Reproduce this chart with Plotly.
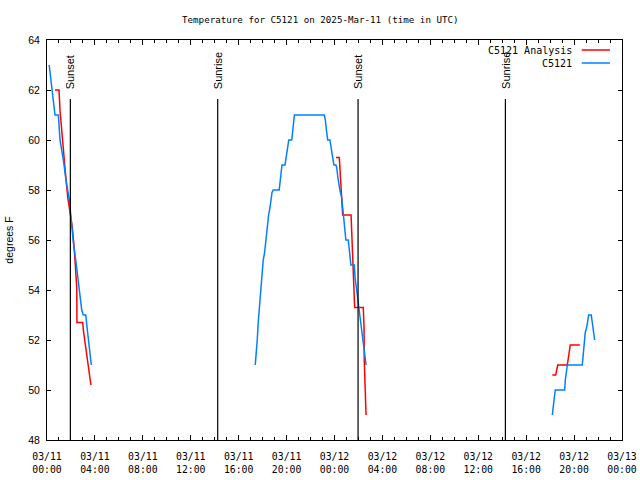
import plotly.graph_objects as go

# ---------------- data ----------------
analysis_time = [
    "2025-03-11 00:40", "2025-03-11 01:00", "2025-03-11 01:05", "2025-03-11 01:14",
    "2025-03-11 01:22", "2025-03-11 01:32", "2025-03-11 01:44", "2025-03-11 01:55",
    "2025-03-11 02:07", "2025-03-11 02:17", "2025-03-11 02:29", "2025-03-11 02:30",
    "2025-03-11 02:59", "2025-03-11 03:02", "2025-03-11 03:14", "2025-03-11 03:24",
    "2025-03-11 03:32", "2025-03-11 03:40",
    None,
    "2025-03-12 00:07", "2025-03-12 00:24", "2025-03-12 00:27", "2025-03-12 00:32",
    "2025-03-12 00:37", "2025-03-12 00:41", "2025-03-12 01:23", "2025-03-12 01:27",
    "2025-03-12 01:31", "2025-03-12 01:34", "2025-03-12 01:38", "2025-03-12 01:41",
    "2025-03-12 02:24", "2025-03-12 02:28", "2025-03-12 02:29", "2025-03-12 02:34",
    "2025-03-12 02:38",
    None,
    "2025-03-12 18:11", "2025-03-12 18:28", "2025-03-12 18:33", "2025-03-12 18:38",
    "2025-03-12 19:26", "2025-03-12 19:31", "2025-03-12 19:36", "2025-03-12 19:41",
    "2025-03-12 20:29",
]
analysis_temp = [
    62.0, 62.0, 61.2, 60.3, 59.6, 58.7, 57.7, 57.2, 56.5, 55.6, 54.1, 52.7,
    52.7, 52.4, 51.7, 51.2, 50.7, 50.2,
    None,
    59.3, 59.3, 58.9, 58.1, 57.3, 57.0, 57.0, 56.3, 55.2, 54.7, 53.9, 53.3,
    53.3, 52.5, 51.2, 49.7, 49.0,
    None,
    50.6, 50.6, 50.8, 51.0, 51.0, 51.3, 51.6, 51.8, 51.8,
]

obs_time = [
    "2025-03-11 00:11", "2025-03-11 00:24", "2025-03-11 00:32", "2025-03-11 00:40",
    "2025-03-11 00:57", "2025-03-11 01:05", "2025-03-11 01:22", "2025-03-11 01:35",
    "2025-03-11 01:52", "2025-03-11 02:04", "2025-03-11 02:12", "2025-03-11 02:24",
    "2025-03-11 02:34", "2025-03-11 02:45", "2025-03-11 02:54", "2025-03-11 03:02",
    "2025-03-11 03:14", "2025-03-11 03:22", "2025-03-11 03:32", "2025-03-11 03:42",
    None,
    "2025-03-11 17:23", "2025-03-11 17:27", "2025-03-11 17:33", "2025-03-11 17:38",
    "2025-03-11 17:43", "2025-03-11 17:50", "2025-03-11 17:57", "2025-03-11 18:03",
    "2025-03-11 18:10", "2025-03-11 18:17", "2025-03-11 18:23", "2025-03-11 18:30",
    "2025-03-11 18:37", "2025-03-11 18:47", "2025-03-11 18:53", "2025-03-11 19:23",
    "2025-03-11 19:30", "2025-03-11 19:37", "2025-03-11 19:52", "2025-03-11 20:03",
    "2025-03-11 20:11", "2025-03-11 20:26", "2025-03-11 20:29", "2025-03-11 20:33",
    "2025-03-11 20:39", "2025-03-11 23:09", "2025-03-11 23:14", "2025-03-11 23:21",
    "2025-03-11 23:26", "2025-03-11 23:37", "2025-03-11 23:46", "2025-03-11 23:51",
    "2025-03-11 23:57", "2025-03-12 00:07", "2025-03-12 00:11", "2025-03-12 00:17",
    "2025-03-12 00:22", "2025-03-12 00:27", "2025-03-12 00:36", "2025-03-12 00:44",
    "2025-03-12 00:51", "2025-03-12 00:57", "2025-03-12 01:09", "2025-03-12 01:14",
    "2025-03-12 01:22", "2025-03-12 01:39", "2025-03-12 01:43", "2025-03-12 01:51",
    "2025-03-12 01:59", "2025-03-12 02:08", "2025-03-12 02:16", "2025-03-12 02:24",
    "2025-03-12 02:33", "2025-03-12 02:38",
    None,
    "2025-03-12 18:11", "2025-03-12 18:16", "2025-03-12 18:21", "2025-03-12 18:26",
    "2025-03-12 19:13", "2025-03-12 19:16", "2025-03-12 19:21", "2025-03-12 19:26",
    "2025-03-12 20:41", "2025-03-12 20:46", "2025-03-12 20:51", "2025-03-12 20:56",
    "2025-03-12 21:03", "2025-03-12 21:08", "2025-03-12 21:13", "2025-03-12 21:26",
    "2025-03-12 21:29", "2025-03-12 21:35", "2025-03-12 21:40", "2025-03-12 21:43",
]
obs_temp = [
    63.0, 62.0, 61.5, 61.0, 61.0, 60.0, 59.2, 58.4, 57.6, 56.5, 55.9, 55.2,
    54.5, 53.9, 53.2, 53.0, 53.0, 52.4, 51.7, 51.0,
    None,
    51.0, 51.3, 52.0, 52.7, 53.2, 53.9, 54.5, 55.2, 55.5, 56.1, 56.5, 57.0,
    57.3, 57.9, 58.0, 58.0, 58.5, 59.0, 59.0, 59.6, 60.0, 60.0, 60.3, 60.7,
    61.0, 61.0, 60.8, 60.3, 60.0, 60.0, 59.5, 59.2, 59.0, 59.0, 58.9, 58.5,
    58.1, 58.0, 57.7, 57.1, 56.5, 56.0, 56.0, 55.6, 55.0, 55.0, 54.5, 54.0,
    53.5, 53.1, 52.5, 52.0, 51.5, 51.0,
    None,
    49.0, 49.5, 49.7, 50.0, 50.0, 50.4, 50.8, 51.0, 51.0, 51.5, 52.0, 52.3,
    52.5, 52.8, 53.0, 53.0, 52.8, 52.5, 52.1, 52.0,
]

sun_times = ["2025-03-11 01:57", "2025-03-11 14:15", "2025-03-12 01:58", "2025-03-12 14:16"]
sun_labels = ["Sunset", "Sunrise", "Sunset", "Sunrise"]
sun_line_top = 61.64

series_names = ["C5121 Analysis", "C5121"]
series_colors = ["#ff0000", "#0080ff"]

title_text = "Temperature for C5121 on 2025-Mar-11 (time in UTC)"
y_title = "degrees F"
x_range = ["2025-03-11 00:00", "2025-03-13 00:00"]
y_range = [48, 64]

MONO = "DejaVu Sans Mono"
SANS = "Liberation Sans"

# ---------------- figure ----------------
fig = go.Figure()
fig.add_trace(go.Scatter(x=analysis_time, y=analysis_temp, mode="lines",
                         line=dict(color=series_colors[0], width=1.5),
                         connectgaps=False, name=series_names[0], showlegend=False))
fig.add_trace(go.Scatter(x=obs_time, y=obs_temp, mode="lines",
                         line=dict(color=series_colors[1], width=1.5),
                         connectgaps=False, name=series_names[1], showlegend=False))

shapes = []
annotations = []
for t, lab in zip(sun_times, sun_labels):
    shapes.append(dict(type="line", xref="x", yref="y", x0=t, x1=t,
                       y0=y_range[0], y1=sun_line_top,
                       line=dict(color="black", width=1.2), layer="above"))
    annotations.append(dict(x=t, y=61.96, xref="x", yref="y", text=lab,
                            textangle=-90, showarrow=False, xanchor="center",
                            yanchor="bottom", font=dict(family=SANS, size=11, color="black")))

# legend emulation (text left of sample line, gnuplot style)
leg_y = [0.975, 0.9425]
for name, col, ly in zip(series_names, series_colors, leg_y):
    annotations.append(dict(x=0.9165, y=ly, xref="paper", yref="paper", text=name,
                            showarrow=False, xanchor="right", yanchor="middle",
                            font=dict(family=MONO, size=10, color="black")))
    shapes.append(dict(type="line", xref="paper", yref="paper", x0=0.930, x1=0.979,
                       y0=ly, y1=ly, line=dict(color=col, width=1.5)))

annotations.append(dict(x=0.4757, y=1, xref="paper", yref="paper", text=title_text,
                        showarrow=False, xanchor="center", yanchor="bottom", yshift=13,
                        font=dict(family=MONO, size=9.2, color="black")))

fig.update_layout(
    width=640, height=480,
    margin=dict(l=47, r=18, t=40, b=40, autoexpand=False),
    paper_bgcolor="white", plot_bgcolor="white",
    shapes=shapes, annotations=annotations,
    showlegend=False,
)
fig.update_xaxes(
    type="date", range=x_range, automargin=False,
    dtick=4 * 3600 * 1000, tick0="2025-03-11 00:00",
    tickformat="%m/%d<br>%H:%M",
    ticks="inside", ticklen=5, tickcolor="black", tickwidth=1,
    minor=dict(dtick=3600 * 1000, ticks="inside", ticklen=3, tickcolor="black", showgrid=False),
    showline=True, linecolor="black", linewidth=1, mirror="ticks",
    showgrid=False, zeroline=False, ticklabelstandoff=7,
    tickfont=dict(family=MONO, size=9.8, color="black"),
)
fig.update_yaxes(
    range=y_range, dtick=2, tick0=48, automargin=False,
    ticks="inside", ticklen=4, tickcolor="black", tickwidth=1,
    showline=True, linecolor="black", linewidth=1, mirror="ticks",
    showgrid=False, zeroline=False, ticklabelstandoff=4,
    tickfont=dict(family=SANS, size=10.5, color="black"),
    title=dict(text=y_title, font=dict(family=SANS, size=10.5, color="black"), standoff=12),
)

fig.write_html("out.html", config={"displayModeBar": False, "staticPlot": True})

# remove the browser's default body margin so the figure sits at the page origin
with open("out.html", "r", encoding="utf-8") as f:
    html = f.read()
html = html.replace("<head>", "<head><style>html,body{margin:0;padding:0;overflow:hidden;}</style>", 1)
with open("out.html", "w", encoding="utf-8") as f:
    f.write(html)
